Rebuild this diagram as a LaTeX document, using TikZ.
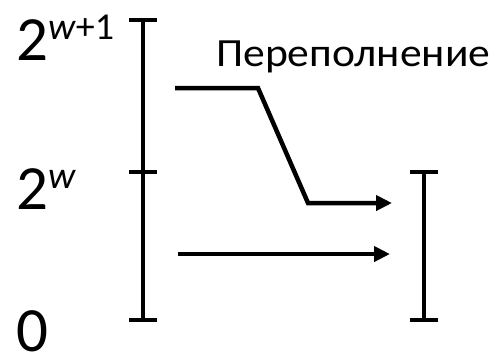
\documentclass[tikz,border=0pt]{standalone}
\usepackage{fontspec}
\setmainfont{Carlito}
\usetikzlibrary{arrows.meta, positioning}

% power of two with a raised exponent
\newcommand{\twopow}[1]{2\raisebox{21pt}{\fontsize{38}{38}\selectfont #1}}

\begin{document}
\begin{tikzpicture}[x=1pt, y=-1pt,
	bar/.style={line width=4pt},
	flow/.style={line width=4.5pt, -{Triangle[length=16pt, width=15pt]}},
	val/.style={anchor=base west, inner sep=0pt, font=\fontsize{63}{63}\selectfont}]
	\useasboundingbox (0,0) rectangle (494,360);

	% full range of the sum
	\coordinate (lo) at (143,320);
	\coordinate (mid) at (143,172);
	\coordinate (hi) at (143,20);
	% range of the result
	\coordinate (rlo) at (424,320);
	\coordinate (rhi) at (424,172);

	\node[val] (zero) at (16,351) {0};
	\node[val] (pw) at (16,209) {\twopow{\textit{w}}};
	\node[val] (pw1) at (16,60) {\twopow{\textit{w}+1}};
	\node[anchor=base west, inner sep=0pt, xscale=1.09, font=\fontsize{40}{40}\selectfont] (ovf) at (216,66) {Переполнение};

	\draw[bar] (lo) -- (hi);
	\foreach \c in {lo, mid, hi, rlo, rhi}
		\draw[bar] ([xshift=-14pt]\c) -- ([xshift=14pt]\c);
	\draw[bar] (rlo) -- (rhi);

	% overflow is wrapped down, small sums pass through
	\coordinate (a0) at (175,88);
	\coordinate (a1) at (258,88);
	\coordinate (a2) at (308,203);
	\coordinate (a3) at (392,203);
	\coordinate (b0) at (178,254);
	\coordinate (b1) at (390,254);
	\draw[flow] (a0) -- (a1) -- (a2) -- (a3);
	\draw[flow] (b0) -- (b1);
\end{tikzpicture}
\end{document}
